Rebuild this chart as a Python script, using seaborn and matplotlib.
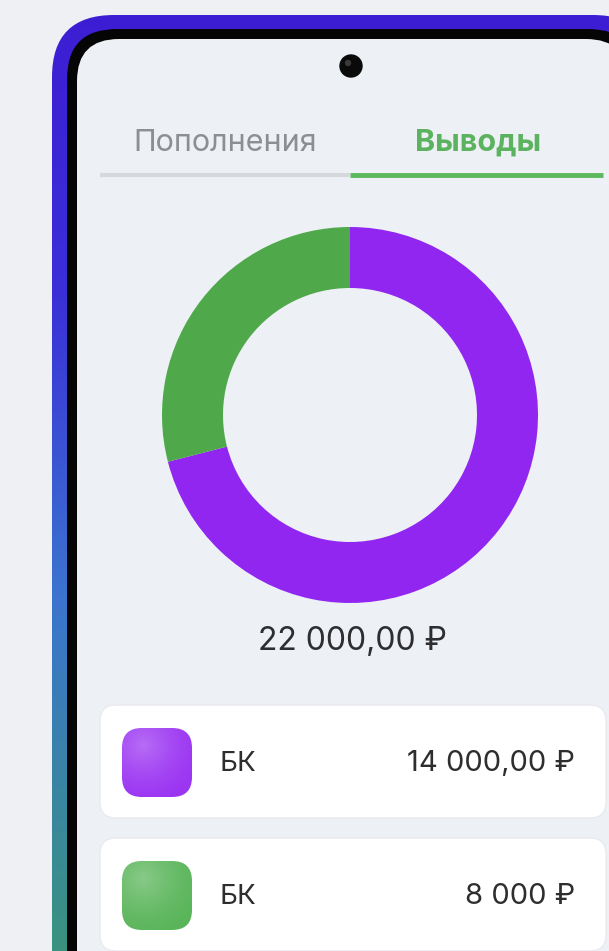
import numpy as np
import seaborn as sns
import matplotlib.pyplot as plt
from matplotlib.patches import FancyBboxPatch, Circle
from matplotlib.colors import LinearSegmentedColormap

# --- DATA ---
tabs = ['Пополнения', 'Выводы']
labels = ['БК', 'БК']
amount_text = ['14 000,00 ₽', '8 000 ₽']
total_text = '22 000,00 ₽'
# arc shares as drawn in the picture (percent of the ring)
shares = [71, 29]
colors = ['#9126f1', '#4fa94b']
icon_colors = ['#9b35f2', '#5ab55a']
# ------------

sns.set_theme(style='white')
plt.rcParams['font.family'] = ['Inter', 'DejaVu Sans']

W, H = 609, 951
fig = plt.figure(figsize=(W / 100, H / 100), dpi=100)
fig.patch.set_facecolor('#eef0f3')

ax = fig.add_axes([0, 0, 1, 1])
ax.set_xlim(0, W)
ax.set_ylim(H, 0)
ax.set_aspect('equal')
ax.axis('off')


def rounded(x0, y0, x1, y1, r, **kw):
    p = FancyBboxPatch((x0, y0), x1 - x0, y1 - y0,
                       boxstyle=f'round,pad=0,rounding_size={r}', **kw)
    ax.add_patch(p)
    return p


# phone frame with a vertical gradient (purple -> blue -> teal)
frame = rounded(52, 15, 655, 1100, 62, facecolor='none', edgecolor='none')
cmap = LinearSegmentedColormap.from_list(
    'frame', [(0, '#3d1dd3'), (0.3, '#3a2fd8'), (0.62, '#3b74cf'), (1, '#39937f')])
grad = np.linspace(0, 1, 256).reshape(-1, 1)
im = ax.imshow(grad, cmap=cmap, extent=(40, 660, H, 10), aspect='auto', zorder=1)
im.set_clip_path(frame)

rounded(67, 29, 638, 1100, 50, facecolor='#050505', edgecolor='none', zorder=2)
rounded(77, 39, 628, 1100, 42, facecolor='#edf0f4', edgecolor='none', zorder=3)

# camera
ax.add_patch(Circle((351, 66), 11, color='#0a0a0a', zorder=4))
ax.add_patch(Circle((348, 63), 2.5, color='#3a3a3a', zorder=5))

# tabs
ax.text(225, 143, tabs[0], ha='center', va='center', fontsize=22,
        color='#8b8e92', zorder=5)
ax.text(478, 143, tabs[1], ha='center', va='center', fontsize=22,
        color='#5cb35f', fontweight='bold', zorder=5)
ax.plot([100, 350], [175, 175], color='#d6d9dc', lw=3, solid_capstyle='butt', zorder=5)
ax.plot([350, 603], [175, 175], color='#5cb85c', lw=3.5, solid_capstyle='butt', zorder=5)

# donut
cx, cy, R = 350, 415, 188
dax = fig.add_axes([(cx - R) / W, (H - cy - R) / H, 2 * R / W, 2 * R / H])
dax.pie(shares, colors=colors, startangle=90, counterclock=False, radius=1,
        wedgeprops=dict(width=61 / R, edgecolor='none'))
dax.set_xlim(-1, 1)
dax.set_ylim(-1, 1)
dax.set_aspect('equal')
dax.axis('off')

ax.text(cx + 2, 641, total_text, ha='center', va='center', fontsize=23,
        color='#2e2e30', zorder=5)

# legend cards
card_tops = [705, 838]
for i, top in enumerate(card_tops):
    rounded(100, top, 606, top + 113, 16, facecolor='white',
            edgecolor='#e8eaee', lw=1, zorder=4)
    yc = top + 58
    icon = rounded(122, yc - 35, 192, yc + 34, 20, facecolor=icon_colors[i],
                   edgecolor='none', zorder=5)
    # soft highlight towards the upper-left corner
    xx, yy = np.meshgrid(np.linspace(0, 1, 64), np.linspace(0, 1, 64))
    shade = 1 - np.clip(np.hypot(xx - 0.3, yy - 0.25) / 0.9, 0, 1)
    rgba = np.zeros((64, 64, 4))
    rgba[..., :3] = 1
    rgba[..., 3] = 0.28 * shade ** 1.5
    hi = ax.imshow(rgba, extent=(122, 192, yc + 34, yc - 35), zorder=6)
    hi.set_clip_path(icon)
    ax.text(220, yc + 1, labels[i], ha='left', va='center', fontsize=20,
            color='#2e2e30', zorder=6)
    ax.text(575, yc + 1, amount_text[i], ha='right', va='center', fontsize=21,
            color='#2e2e30', zorder=6)

ax.set_xlim(0, W)
ax.set_ylim(H, 0)
fig.savefig('out.png', dpi=100, facecolor=fig.get_facecolor())
